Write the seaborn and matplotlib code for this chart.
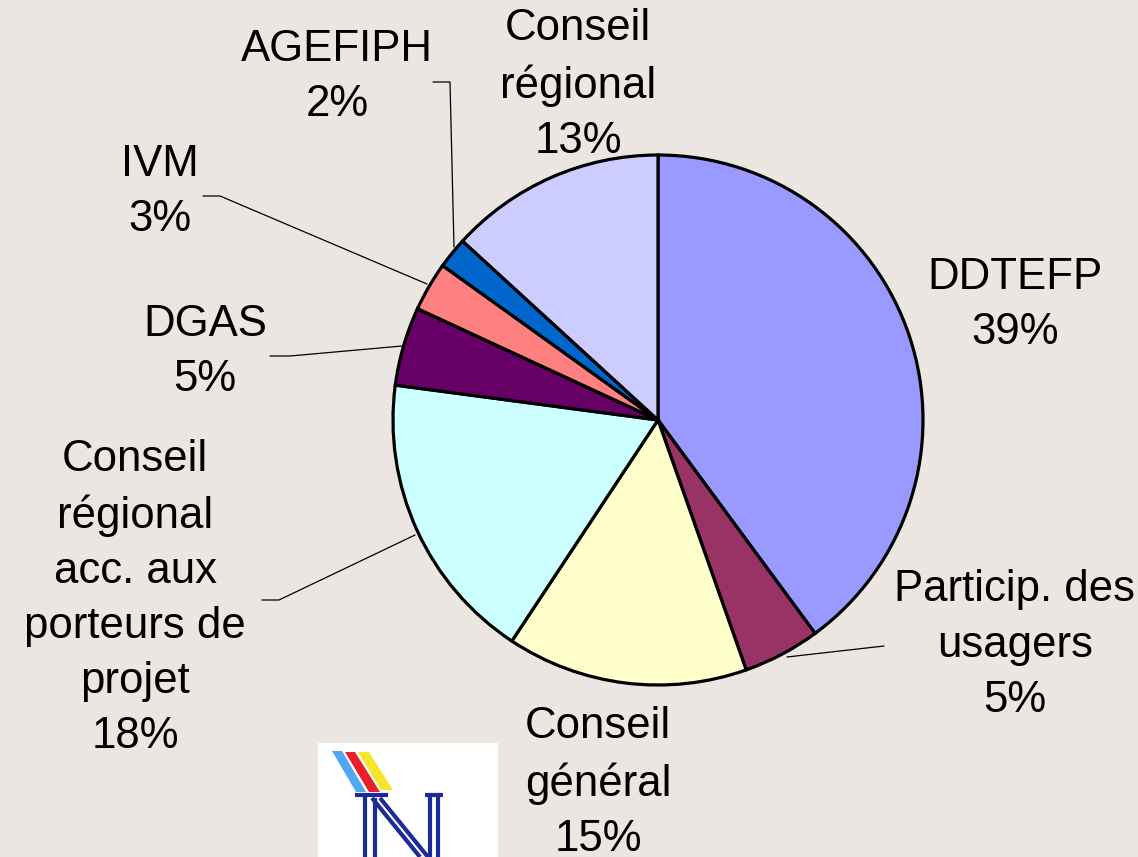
import matplotlib
matplotlib.use('Agg')
import matplotlib.pyplot as plt
import seaborn as sns
from matplotlib.patches import Polygon, Rectangle

# data, clockwise from 12 o'clock
labels = ['DDTEFP', 'Particip. des\nusagers', 'Conseil\ngénéral',
          'Conseil\nrégional\nacc. aux\nporteurs de\nprojet',
          'DGAS', 'IVM', 'AGEFIPH', 'Conseil\nrégional']
values = [39.9, 4.7, 14.7, 17.8, 4.8, 3.0, 1.9, 13.2]
pct_text = ['39%', '5%', '15%', '18%', '5%', '3%', '2%', '13%']
colors = ['#9999FF', '#993366', '#FFFFCC', '#CCFFFF',
          '#660066', '#FF8080', '#0066CC', '#CCCCFF']

# layout in pixels (reference canvas 1138x857, pie centre 658,420, r=265)
W, H = 1138, 857
CX, CY, R = 658, 420, 265
label_pos = [(1015, 305), (1015, 645), (598, 783), (135, 598),
             (205, 352), (160, 192), (337, 77), (578, 85)]
leaders = [None,
           [(787, 657), (884, 646)],
           None,
           [(415, 535), (279, 600), (262, 600)],
           [(402, 346), (290, 356), (270, 356)],
           [(427, 284), (220, 196), (203, 196)],
           [(454, 247), (450, 82), (433, 82)],
           None]

BG = '#EBE6E1'


def px(p):
    return ((p[0] - CX) / R, (CY - p[1]) / R)


sns.set_style('white')
plt.rcParams['font.family'] = ['Liberation Sans', 'DejaVu Sans']

fig = plt.figure(figsize=(W / 100, H / 100), dpi=100, facecolor=BG)
ax = fig.add_axes([0, 0, 1, 1])
ax.set_facecolor(BG)

ax.pie(values, colors=colors, startangle=90, counterclock=False, radius=1,
       wedgeprops=dict(edgecolor='black', linewidth=2.3))

ax.set_xlim(-CX / R, (W - CX) / R)
ax.set_ylim((CY - H) / R, CY / R)
ax.set_aspect('equal')
ax.axis('off')

for lab, pct, pos, lead in zip(labels, pct_text, label_pos, leaders):
    x, y = px(pos)
    ax.text(x, y, lab + '\n' + pct, ha='center', va='center',
            fontsize=31.5, linespacing=1.44, color='black')
    if lead:
        pts = [px(p) for p in lead]
        ax.plot([p[0] for p in pts], [p[1] for p in pts], color='black', lw=0.9)

# logo in the lower left
ax.add_patch(Rectangle(px((318, 857)), 180 / R, 114 / R, facecolor='white',
                       edgecolor='none', zorder=5))
stripes = [('#4FA8F0', [(332, 751), (342, 751), (366, 792), (356, 792)]),
           ('#E8202A', [(345, 752), (355, 752), (380, 792), (369, 792)]),
           ('#F5E62A', [(358, 752), (369, 752), (393, 790), (381, 790)])]
for c, poly in stripes:
    ax.add_patch(Polygon([px(p) for p in poly], closed=True, facecolor=c,
                         edgecolor='none', zorder=6))
navy = '#1C2A9C'
segs = [[(355, 795), (388, 795)], [(365, 795), (365, 857)],
        [(375, 798), (375, 857)], [(372, 798), (420, 857)],
        [(380, 798), (428, 857)], [(430, 795), (430, 857)],
        [(438, 795), (438, 857)], [(425, 795), (443, 795)]]
for s in segs:
    a, b = px(s[0]), px(s[1])
    ax.plot([a[0], b[0]], [a[1], b[1]], color=navy, lw=3, zorder=7,
            solid_capstyle='butt')

fig.savefig('out.png', dpi=100, facecolor=BG)
